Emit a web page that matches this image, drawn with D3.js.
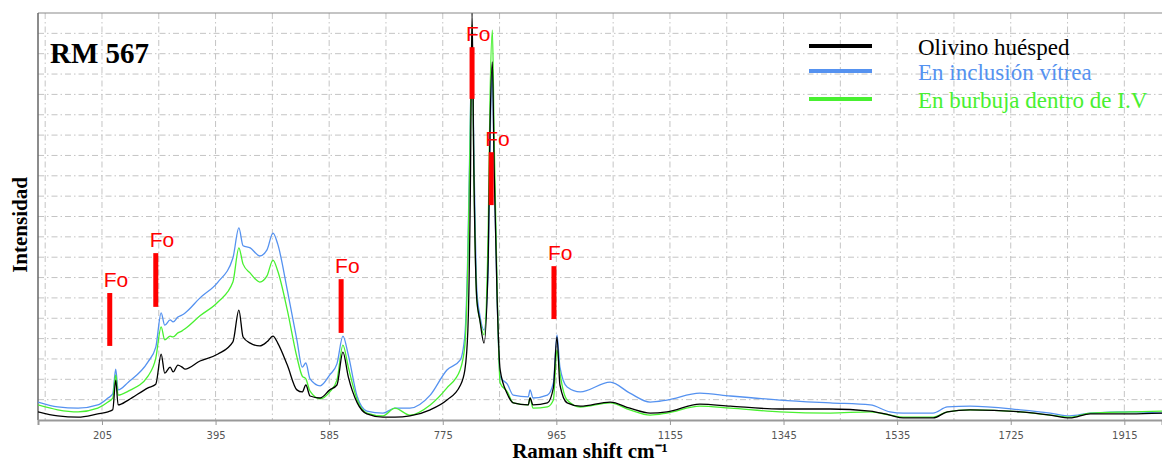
<!DOCTYPE html>
<html><head><meta charset="utf-8">
<script src="https://cdn.jsdelivr.net/npm/d3@7"></script>
<style>body{margin:0;background:#fff;overflow:hidden}</style>
</head><body>
<svg id="chart" width="1162" height="464"></svg>
<script>
// Raman shift (cm-1)
const shifts = [98,131,165,198,215,223,228,232,249,282,
  295,304,310,319,324,332,339,344,369,399,
  424,434,441,453,469,481,491,499,515,531,
  540,546,553,570,586,598,608,617,632,648,
  675,695,720,754,782,804,812,817,821,824,
  827,832,837,844,851,854,858,861,866,871,
  883,893,918,921,926,950,960,966,971,983,
  1005,1055,1088,1122,1150,1205,1256,1339,1423,1490,
  1523,1545,1595,1619,1657,1741,1791,1824,1858,1925,
  1978];
// Olivino huésped
const olivino = [20,10,7,15,20,25,98,37,49,79,
  88,162,115,130,118,135,130,125,145,162,
  192,270,204,189,182,192,206,189,135,74,
  69,86,59,54,74,86,167,106,42,15,
  7,7,10,25,49,84,123,221,541,1000,
  614,295,246,189,393,713,880,614,295,123,
  64,42,37,54,37,42,79,204,86,42,
  34,44,29,17,20,39,34,27,27,22,
  12,5,5,20,25,20,12,5,15,15,
  17];
// En inclusión vítrea
const inclusion = [44,32,29,37,54,64,125,74,93,143,
  179,263,233,246,241,253,258,263,300,339,
  398,472,428,423,403,418,459,432,319,197,
  130,140,101,84,111,138,206,160,57,22,
  17,29,29,61,123,147,209,418,737,934,
  663,319,258,221,369,663,855,614,295,106,
  88,61,57,74,54,61,91,209,130,81,
  69,93,66,44,49,66,59,49,42,37,
  20,17,17,32,34,25,17,10,17,20,
  17];
// En burbuja dentro de I.V
const burbuja = [37,25,20,29,44,54,111,61,71,108,
  152,229,197,206,204,214,219,224,256,290,
  339,423,383,361,339,354,393,366,270,155,
  108,101,71,52,69,98,184,130,49,17,
  10,29,12,37,79,123,184,393,713,971,
  614,295,246,209,467,786,958,688,319,91,
  69,42,37,54,29,32,49,172,115,49,
  32,42,25,12,17,34,29,20,17,20,
  12,7,7,20,25,20,12,7,17,20,
  22];

const xTicks = [205,395,585,775,965,1155,1345,1535,1725,1915];
const seriesNames = ["Olivino huésped","En inclusión vítrea","En burbuja dentro de I.V"];
const seriesColors = ["#000000","#5592f0","#48f030"];

// Forsterite (Fo) markers
const foShifts = [218,295,605,824,856,961];
const foTop = [312,410,346,916,658,378];
const foBottom = [182,278,214,789,528,248];
const foLabel = "Fo";

const svg = d3.select("#chart");
const x = d3.scaleLinear().domain([98, 1978]).range([38, 1162]);
const y = d3.scaleLinear().domain([0, 1000]).range([420, 13]);

svg.append("defs").append("clipPath").attr("id","clip")
  .append("rect").attr("x",38).attr("y",13).attr("width",1124).attr("height",407);

// grid
const grid = svg.append("g");
grid.selectAll("line.v").data(d3.range(110, 1978, 95)).join("line")
  .attr("x1", d=>x(d)).attr("x2", d=>x(d)).attr("y1", 13).attr("y2", 420)
  .attr("stroke","#c4c4c4").attr("stroke-width",1).attr("stroke-dasharray","6,3,1.5,3");
grid.selectAll("line.h").data(d3.range(50, 1000, 50)).join("line")
  .attr("x1", 38).attr("x2", 1162).attr("y1", d=>y(d)).attr("y2", d=>y(d))
  .attr("stroke","#c4c4c4").attr("stroke-width",1).attr("stroke-dasharray","6,3,1.5,3");

// borders
svg.append("line").attr("x1",38).attr("x2",1162).attr("y1",13).attr("y2",13)
  .attr("stroke","#8a8a8a").attr("stroke-width",1.2);
svg.append("line").attr("x1",38).attr("x2",38).attr("y1",13).attr("y2",420)
  .attr("stroke","#666").attr("stroke-width",1.5);

// x axis
const xAxis = d3.axisBottom(x).tickValues(xTicks).tickSize(5).tickPadding(7).tickFormat(d3.format("d"));
const gx = svg.append("g").attr("transform","translate(0,420)").call(xAxis);
gx.select(".domain").attr("stroke","#999").attr("stroke-width",2);
gx.selectAll(".tick line").attr("stroke","#999");
gx.selectAll(".tick text").attr("fill","#555").attr("font-family","DejaVu Sans, sans-serif").attr("font-size",10);

// series
const series = [inclusion, burbuja, olivino];
const cols = [seriesColors[1], seriesColors[2], seriesColors[0]];
const line = d3.line().x((d,i)=>x(shifts[i])).y(d=>y(d)).curve(d3.curveMonotoneX);
const gl = svg.append("g").attr("clip-path","url(#clip)");
series.forEach((s,k)=>{
  gl.append("path").datum(s).attr("d", line).attr("fill","none")
    .attr("stroke", cols[k]).attr("stroke-width",1.3).attr("stroke-linejoin","round");
});

// Fo markers
const gf = svg.append("g");
gf.selectAll("rect").data(foShifts).join("rect")
  .attr("x", d=>x(d)-2.5).attr("width",5)
  .attr("y", (d,i)=>y(foTop[i])).attr("height",(d,i)=>y(foBottom[i])-y(foTop[i]))
  .attr("fill","#ff0000");
gf.selectAll("text").data(foShifts).join("text")
  .attr("x", d=>x(d)-6).attr("y",(d,i)=>y(foTop[i])-6)
  .attr("fill","#ff0000").attr("font-family","Liberation Sans, Arial, sans-serif")
  .attr("font-size",21).text(foLabel);

// title
svg.append("text").attr("x",50).attr("y",63).attr("font-family","Liberation Serif, Times New Roman, serif")
  .attr("font-weight","bold").attr("font-size",29).attr("fill","#000").text("RM 567");

// legend
const lg = svg.append("g");
const ly = [46, 71, 99];
seriesNames.forEach((n,i)=>{
  lg.append("line").attr("x1",809).attr("x2",872).attr("y1",ly[i]).attr("y2",ly[i])
    .attr("stroke", seriesColors[i]).attr("stroke-width",4);
  lg.append("text").attr("x",918).attr("y",ly[i]+8.5)
    .attr("font-family","Liberation Serif, Times New Roman, serif").attr("font-size",23)
    .attr("fill", seriesColors[i]).text(n);
});

// axis titles
svg.append("text").attr("transform","translate(27,225) rotate(-90)").attr("text-anchor","middle")
  .attr("font-family","Liberation Serif, Times New Roman, serif").attr("font-weight","bold")
  .attr("font-size",21).attr("fill","#000").text("Intensidad");
svg.append("text").attr("x",590).attr("y",458).attr("text-anchor","middle")
  .attr("font-family","Liberation Serif, Times New Roman, serif").attr("font-weight","bold")
  .attr("font-size",21).attr("fill","#000").text("Raman shift cm⁻¹");
</script>
</body></html>
